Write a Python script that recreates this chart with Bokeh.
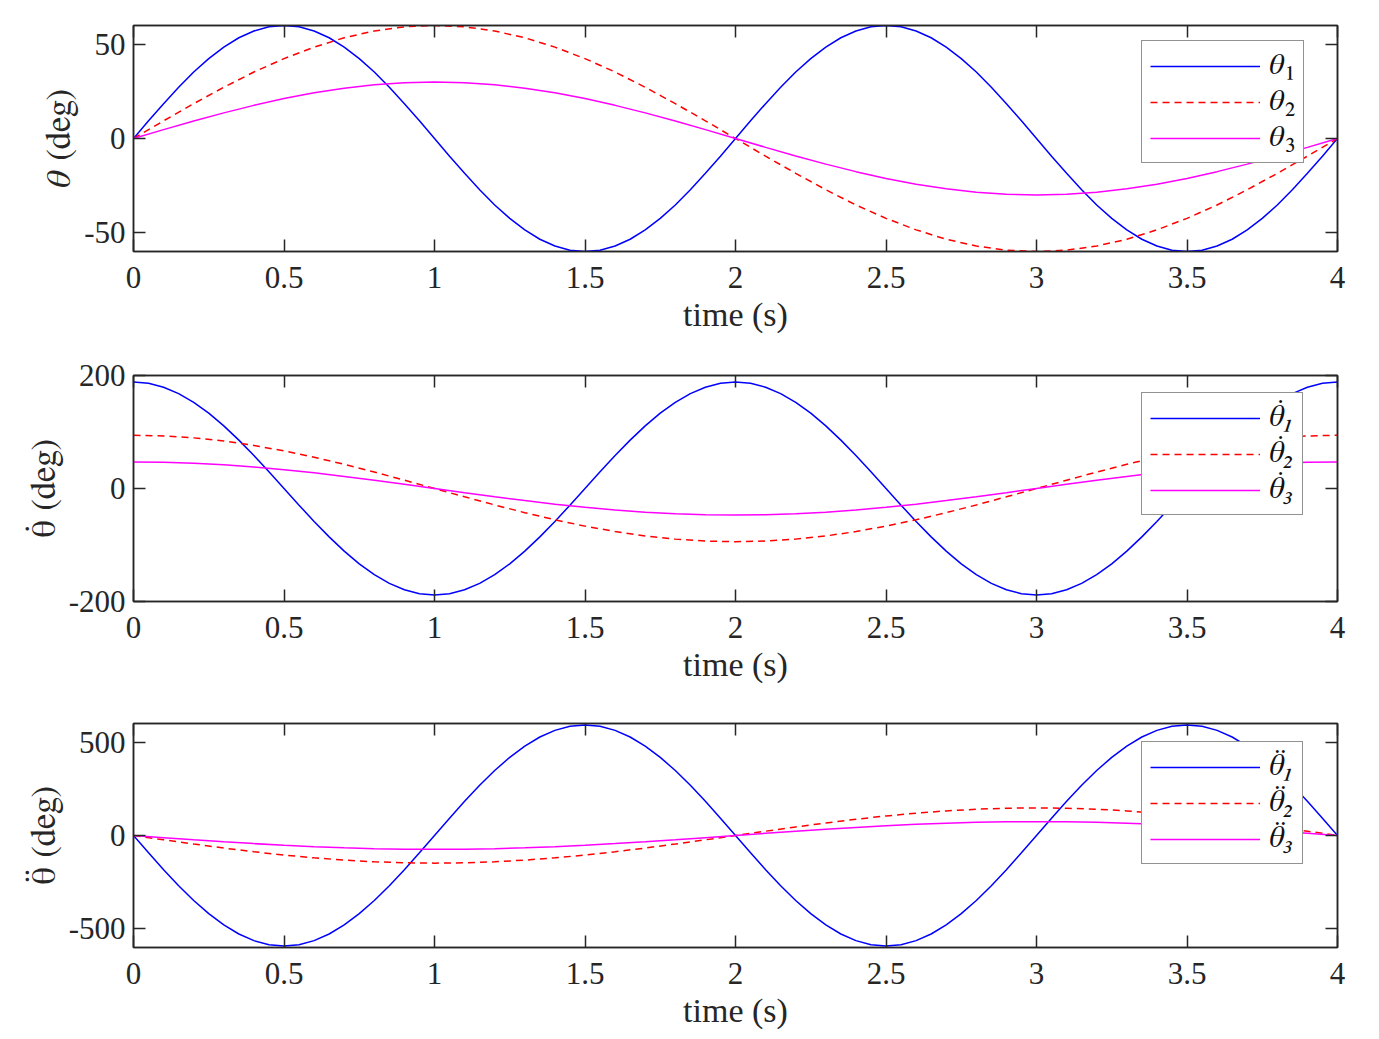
from bokeh.plotting import figure
from bokeh.models import (FixedTicker, LinearAxis, Legend, LegendItem, Range1d,
                          CustomJSTickFormatter)
from bokeh.layouts import column
from bokeh.embed import file_html
from bokeh.resources import INLINE

# ---------------- data ----------------
# fast series sampled every 0.05 s, slow series every 0.1 s
time_fine = [i / 20 for i in range(81)]
time_coarse = [i / 10 for i in range(41)]

theta1 = [0, 9.4, 18.5, 27.2, 35.3, 42.4, 48.5, 53.5, 57.1, 59.3,
          60.0, 59.3, 57.1, 53.5, 48.5, 42.4, 35.3, 27.2, 18.5, 9.4,
          0, -9.4, -18.5, -27.2, -35.3, -42.4, -48.5, -53.5, -57.1, -59.3,
          -60.0, -59.3, -57.1, -53.5, -48.5, -42.4, -35.3, -27.2, -18.5, -9.4,
          0, 9.4, 18.5, 27.2, 35.3, 42.4, 48.5, 53.5, 57.1, 59.3,
          60.0, 59.3, 57.1, 53.5, 48.5, 42.4, 35.3, 27.2, 18.5, 9.4,
          0, -9.4, -18.5, -27.2, -35.3, -42.4, -48.5, -53.5, -57.1, -59.3,
          -60.0, -59.3, -57.1, -53.5, -48.5, -42.4, -35.3, -27.2, -18.5, -9.4, 0]
theta2 = [0, 9.4, 18.5, 27.2, 35.3, 42.4, 48.5, 53.5, 57.1, 59.3,
          60.0, 59.3, 57.1, 53.5, 48.5, 42.4, 35.3, 27.2, 18.5, 9.4,
          0, -9.4, -18.5, -27.2, -35.3, -42.4, -48.5, -53.5, -57.1, -59.3,
          -60.0, -59.3, -57.1, -53.5, -48.5, -42.4, -35.3, -27.2, -18.5, -9.4, 0]
theta3 = [0, 4.7, 9.3, 13.6, 17.6, 21.2, 24.3, 26.7, 28.5, 29.6,
          30.0, 29.6, 28.5, 26.7, 24.3, 21.2, 17.6, 13.6, 9.3, 4.7,
          0, -4.7, -9.3, -13.6, -17.6, -21.2, -24.3, -26.7, -28.5, -29.6,
          -30.0, -29.6, -28.5, -26.7, -24.3, -21.2, -17.6, -13.6, -9.3, -4.7, 0]

dtheta1 = [188.5, 186.2, 179.3, 168.0, 152.5, 133.3, 110.8, 85.6, 58.3, 29.5,
           0, -29.5, -58.3, -85.6, -110.8, -133.3, -152.5, -168.0, -179.3, -186.2,
           -188.5, -186.2, -179.3, -168.0, -152.5, -133.3, -110.8, -85.6, -58.3, -29.5,
           0, 29.5, 58.3, 85.6, 110.8, 133.3, 152.5, 168.0, 179.3, 186.2,
           188.5, 186.2, 179.3, 168.0, 152.5, 133.3, 110.8, 85.6, 58.3, 29.5,
           0, -29.5, -58.3, -85.6, -110.8, -133.3, -152.5, -168.0, -179.3, -186.2,
           -188.5, -186.2, -179.3, -168.0, -152.5, -133.3, -110.8, -85.6, -58.3, -29.5,
           0, 29.5, 58.3, 85.6, 110.8, 133.3, 152.5, 168.0, 179.3, 186.2, 188.5]
dtheta2 = [94.2, 93.0, 89.6, 84.0, 76.2, 66.6, 55.4, 42.8, 29.1, 14.7,
           0, -14.7, -29.1, -42.8, -55.4, -66.6, -76.2, -84.0, -89.6, -93.0,
           -94.2, -93.0, -89.6, -84.0, -76.2, -66.6, -55.4, -42.8, -29.1, -14.7,
           0, 14.7, 29.1, 42.8, 55.4, 66.6, 76.2, 84.0, 89.6, 93.0, 94.2]
dtheta3 = [47.1, 46.5, 44.8, 42.0, 38.1, 33.3, 27.7, 21.4, 14.6, 7.4,
           0, -7.4, -14.6, -21.4, -27.7, -33.3, -38.1, -42.0, -44.8, -46.5,
           -47.1, -46.5, -44.8, -42.0, -38.1, -33.3, -27.7, -21.4, -14.6, -7.4,
           0, 7.4, 14.6, 21.4, 27.7, 33.3, 38.1, 42.0, 44.8, 46.5, 47.1]

ddtheta1 = [0, -92.6, -183.0, -268.9, -348.1, -418.8, -479.1, -527.7, -563.2, -584.9,
            -592.2, -584.9, -563.2, -527.7, -479.1, -418.8, -348.1, -268.9, -183.0, -92.6,
            0, 92.6, 183.0, 268.9, 348.1, 418.8, 479.1, 527.7, 563.2, 584.9,
            592.2, 584.9, 563.2, 527.7, 479.1, 418.8, 348.1, 268.9, 183.0, 92.6,
            0, -92.6, -183.0, -268.9, -348.1, -418.8, -479.1, -527.7, -563.2, -584.9,
            -592.2, -584.9, -563.2, -527.7, -479.1, -418.8, -348.1, -268.9, -183.0, -92.6,
            0, 92.6, 183.0, 268.9, 348.1, 418.8, 479.1, 527.7, 563.2, 584.9,
            592.2, 584.9, 563.2, 527.7, 479.1, 418.8, 348.1, 268.9, 183.0, 92.6, 0]
ddtheta2 = [0, -23.1, -45.7, -67.2, -87.0, -104.7, -119.7, -131.9, -140.8, -146.2,
            -148.0, -146.2, -140.8, -131.9, -119.7, -104.7, -87.0, -67.2, -45.7, -23.1,
            0, 23.1, 45.7, 67.2, 87.0, 104.7, 119.7, 131.9, 140.8, 146.2,
            148.0, 146.2, 140.8, 131.9, 119.7, 104.7, 87.0, 67.2, 45.7, 23.1, 0]
ddtheta3 = [0, -11.6, -22.9, -33.6, -43.5, -52.3, -59.9, -65.9, -70.4, -73.1,
            -74.0, -73.1, -70.4, -65.9, -59.9, -52.3, -43.5, -33.6, -22.9, -11.6,
            0, 11.6, 22.9, 33.6, 43.5, 52.3, 59.9, 65.9, 70.4, 73.1,
            74.0, 73.1, 70.4, 65.9, 59.9, 52.3, 43.5, 33.6, 22.9, 11.6, 0]

x_ticks = [0, 0.5, 1, 1.5, 2, 2.5, 3, 3.5, 4]
y_ticks_top = [-50, 0, 50]
y_ticks_mid = [-200, 0, 200]
y_ticks_bot = [-500, 0, 500]

TH_IT = "\U0001D703"  # mathematical italic theta (no diacritic needed)
TH = "\u03b8"
labels_top = [TH_IT + "\u2081", TH_IT + "\u2082", TH_IT + "\u2083"]
labels_mid = [TH + "\u0307\u2081", TH + "\u0307\u2082", TH + "\u0307\u2083"]
labels_bot = [TH + "\u0308\u2081", TH + "\u0308\u2082", TH + "\u0308\u2083"]
ylabel_top = TH_IT + " (deg)"
ylabel_mid = TH + "\u0307 (deg)"
ylabel_bot = TH + "\u0308 (deg)"
xlabel = "time (s)"

FONT = "Liberation Serif"
MATHFONT = "FreeSerif"
FRAME = "#262626"
COLORS = ["#0000ff", "#ff0000", "#ff00ff"]
DASHES = ["solid", "7 5", "solid"]

fmt = CustomJSTickFormatter(code="return (Math.round(tick*10)/10).toString();")


def style_axis(ax, show_labels):
    ax.axis_line_color = FRAME
    ax.axis_line_width = 1.5
    ax.major_tick_line_color = FRAME
    ax.major_tick_line_width = 1.5
    ax.major_tick_in = 12
    ax.major_tick_out = 0
    ax.minor_tick_line_color = None
    ax.formatter = fmt
    if show_labels:
        ax.major_label_text_font = FONT
        ax.major_label_text_font_size = "31px"
        ax.major_label_text_color = "#262626"
        ax.axis_label_text_font = FONT
        ax.axis_label_text_font_size = "34px"
        ax.axis_label_text_font_style = "normal"
        ax.axis_label_text_color = "#262626"
    else:
        ax.major_label_text_font_size = "0px"
        ax.major_label_text_alpha = 0


def make_fig(xs_list, series, labels, label_style, yr, yticks, ylabel, height,
             top, bottom, legend_y):
    p = figure(width=1371, height=height, output_backend="svg",
               toolbar_location=None, x_range=Range1d(0, 4),
               y_range=Range1d(-yr, yr), min_border_left=133,
               min_border_right=34, min_border_top=top, min_border_bottom=bottom)
    p.grid.visible = False
    p.outline_line_color = FRAME
    p.outline_line_width = 1.5
    p.background_fill_color = "white"
    p.border_fill_color = "white"

    p.xaxis.ticker = FixedTicker(ticks=x_ticks)
    p.yaxis.ticker = FixedTicker(ticks=yticks)
    p.xaxis.axis_label = xlabel
    p.yaxis.axis_label = ylabel
    style_axis(p.xaxis[0], True)
    style_axis(p.yaxis[0], True)
    p.yaxis.axis_label_text_font = MATHFONT
    p.yaxis.axis_label_text_font_size = "35px"
    p.xaxis.major_label_standoff = 15
    p.yaxis.major_label_standoff = 8
    p.xaxis.axis_label_standoff = 5
    p.yaxis.axis_label_standoff = 4

    ax_top = LinearAxis(ticker=FixedTicker(ticks=x_ticks))
    style_axis(ax_top, False)
    p.add_layout(ax_top, "above")
    ax_right = LinearAxis(ticker=FixedTicker(ticks=yticks))
    style_axis(ax_right, False)
    p.add_layout(ax_right, "right")

    items = []
    for xs, ys, lab, col, dash in zip(xs_list, series, labels, COLORS, DASHES):
        r = p.line(xs, ys, line_color=col, line_width=1.5, line_dash=dash)
        items.append(LegendItem(label=lab, renderers=[r]))

    leg = Legend(items=items, location=(1008, legend_y))
    leg.label_text_font = MATHFONT
    leg.label_text_font_size = "30px"
    leg.label_text_font_style = label_style
    leg.label_text_color = "#111111"
    leg.glyph_width = 110
    leg.glyph_height = 30
    leg.label_height = 30
    leg.label_standoff = 9
    leg.spacing = 3
    leg.padding = 8
    leg.margin = 0
    leg.border_line_color = FRAME
    leg.border_line_width = 1.5
    leg.background_fill_alpha = 1
    p.add_layout(leg, "center")
    return p


xs3 = [time_fine, time_coarse, time_coarse]
p1 = make_fig(xs3, [theta1, theta2, theta3], labels_top, "normal", 60,
              y_ticks_top, ylabel_top, 355, 25, 104, 88)
p2 = make_fig(xs3, [dtheta1, dtheta2, dtheta3], labels_mid, "italic", 200,
              y_ticks_mid, ylabel_mid, 348, 20, 102, 86)
p3 = make_fig(xs3, [ddtheta1, ddtheta2, ddtheta3], labels_bot, "italic", 600,
              y_ticks_bot, ylabel_bot, 328, 20, 81, 83)

layout = column(p1, p2, p3, spacing=0)
open("out.html", "w").write(file_html(layout, INLINE))
